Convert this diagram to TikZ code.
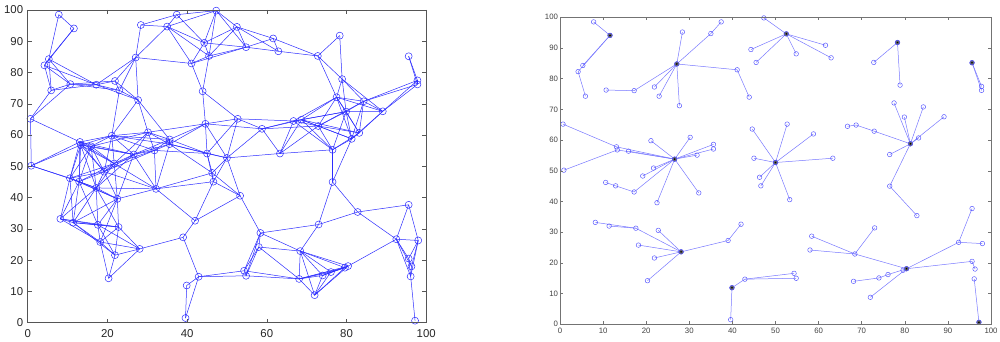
\documentclass[tikz,border=0pt]{standalone}
\usepackage{fontspec}
\setmainfont{Liberation Sans}
\definecolor{linkB}{RGB}{45,45,255}
\definecolor{treeB}{RGB}{120,120,255}
\definecolor{markB}{RGB}{80,80,255}
\definecolor{axG}{RGB}{85,85,85}
\newcommand\sensorpts{7.8/98.5, 11.6/94.1, 5.3/84.3, 4.2/82.3, 5.9/74.3, 10.7/76.3, 17.2/76.1, 27.1/84.8, 28.4/95.2, 35.0/94.7,
 37.4/98.5, 41.1/82.9, 43.9/74.0, 21.9/77.3, 23.0/74.3, 27.7/71.2, 0.7/65.2, 13.1/57.8, 13.3/56.8, 15.9/56.4,
 26.6/53.8, 0.9/50.2, 21.1/59.8, 30.2/60.9, 35.6/58.6, 35.6/57.1, 31.8/55.1, 21.7/50.9, 19.2/48.3, 10.6/46.2,
 12.9/45.1, 17.2/43.1, 22.5/39.6, 32.2/42.8, 44.6/63.6, 45.0/54.1, 46.3/47.9, 46.6/45.1, 50.0/52.7, 52.7/65.2,
 58.8/62.0, 63.3/54.1, 53.3/40.6, 44.3/89.5, 45.5/85.3, 47.3/99.8, 52.5/94.6, 61.6/90.9, 62.9/86.8, 54.8/88.1,
 78.3/91.8, 72.8/85.3, 78.9/77.9, 95.6/85.2, 97.8/77.5, 97.8/76.2, 77.5/72.1, 84.3/70.8, 79.9/67.5, 89.1/67.6,
 66.7/64.5, 68.7/64.9, 72.9/62.9, 81.3/58.8, 83.2/60.7, 76.5/55.3, 76.5/45.0, 82.8/35.4, 8.2/33.2, 11.4/32.0,
 17.6/31.3, 22.8/30.6, 18.2/25.8, 28.1/23.6, 21.9/21.6, 20.3/14.2, 39.0/27.3, 42.0/32.6, 39.9/11.9, 39.6/1.5,
 42.9/14.7, 54.3/16.6, 54.8/15.0, 58.4/28.7, 58.0/24.2, 68.4/22.9, 73.0/31.4, 80.4/18.1, 79.6/17.6, 76.1/16.2,
 74.0/15.1, 68.1/14.0, 72.0/8.8, 92.5/26.7, 95.6/37.7, 98.0/26.3, 95.6/20.5, 96.3/18.0, 96.1/14.8, 97.2/0.65}

\begin{document}
\begin{tikzpicture}[x=1pt,y=1pt,
  sensorL/.style={circle,draw=linkB,line width=0.5pt,inner sep=0pt,minimum size=7pt},
  sensorR/.style={circle,draw=markB,line width=0.45pt,inner sep=0pt,minimum size=4.6pt},
  headR/.style={sensorR,fill=black!60},
  linkL/.style={linkB,line width=0.5pt},
  linkR/.style={treeB,line width=0.5pt},
  axL/.style={axG,line width=0.6pt},
  axR/.style={black!55,line width=0.5pt}]
\useasboundingbox (0,0) rectangle (1000,342);
% ---- left: all links shorter than the radio range (15)
\begin{scope}[shift={(27.7,19.3)},x=3.985pt,y=3.127pt]
\foreach[count=\i] \px/\py in \sensorpts \node[sensorL] (L\i) at (\px,\py) {};
\foreach[count=\i] \xa/\ya in \sensorpts {
  \foreach[count=\j] \xb/\yb in \sensorpts {
    \ifnum\j>\i
      \pgfmathparse{veclen(\xa-\xb,\ya-\yb)<15.1 ? 1 : 0}
      \ifdim\pgfmathresult pt>0.5pt \draw[linkL] (L\i.center)--(L\j.center); \fi
    \fi}}
\draw[axL] (0,0) rectangle (100,100);
\foreach \t in {0,20,...,100} {
  \draw[axL] (\t,0)--+(0,4pt) (\t,100)--+(0,-4pt);
  \node[anchor=north,inner sep=0pt,yshift=-6.6pt,font=\fontsize{11.4}{12}\selectfont,black!85] at (\t,0) {\t};}
\foreach \t in {0,10,...,100} {
  \draw[axL] (0,\t)--+(4pt,0) (100,\t)--+(-4pt,0);
  \node[anchor=east,inner sep=0pt,xshift=-4.4pt,font=\fontsize{11.4}{12}\selectfont,black!85] at (0,\t) {\t};}
\end{scope}
% ---- right: clusters, every node tied to its head
\begin{scope}[shift={(560,17.7)},x=4.31pt,y=3.07pt]
\foreach[count=\i] \px/\py in \sensorpts \coordinate (R\i) at (\px,\py);
\foreach \a/\b in {2/1, 2/3, 2/4, 4/5,
  8/9, 8/10, 10/11, 8/12, 12/13, 8/14, 8/15, 8/16, 8/7, 7/6,
  21/18, 18/17, 21/19, 19/22, 21/20, 21/23, 21/24, 21/25, 21/26, 21/27, 21/28, 21/29,
  21/32, 32/31, 31/30, 21/33, 21/34,
  39/35, 39/36, 39/37, 39/38, 39/40, 39/41, 39/42, 39/43,
  47/44, 47/45, 47/46, 47/48, 47/49, 47/50, 51/52, 51/53, 54/55, 54/56,
  64/57, 64/58, 64/59, 64/60, 64/63, 63/62, 62/61, 64/65, 64/66, 64/67, 67/68,
  74/71, 71/69, 71/70, 74/72, 74/73, 74/75, 74/76, 74/77, 77/78,
  79/80, 79/81, 81/82, 81/83,
  88/86, 86/84, 86/85, 86/87, 88/89, 88/90, 90/91, 91/92, 88/93, 88/94, 94/95, 94/96, 88/97, 97/98,
  100/99}
  \draw[linkR] (R\a)--(R\b);
\foreach \i in {1,...,100} \node[sensorR] (N\i) at (R\i) {};
\foreach \i in {2,8,21,39,47,51,54,64,74,79,88,100} {
  \node[headR] (H\i) at (R\i) {};
  \fill[black] (H\i.center) circle (0.9pt);}
\draw[axR] (0,0) rectangle (100,100);
\foreach \t in {0,10,...,100} {
  \draw[axR] (\t,0)--+(0,3pt) (\t,100)--+(0,-3pt) (0,\t)--+(3pt,0) (100,\t)--+(-3pt,0);
  \node[anchor=north,inner sep=0pt,yshift=-4pt,font=\fontsize{7.8}{8}\selectfont,black!75] at (\t,0) {\t};
  \node[anchor=east,inner sep=0pt,xshift=-1.8pt,font=\fontsize{7.8}{8}\selectfont,black!75] at (0,\t) {\t};}
\end{scope}
\end{tikzpicture}
\end{document}
